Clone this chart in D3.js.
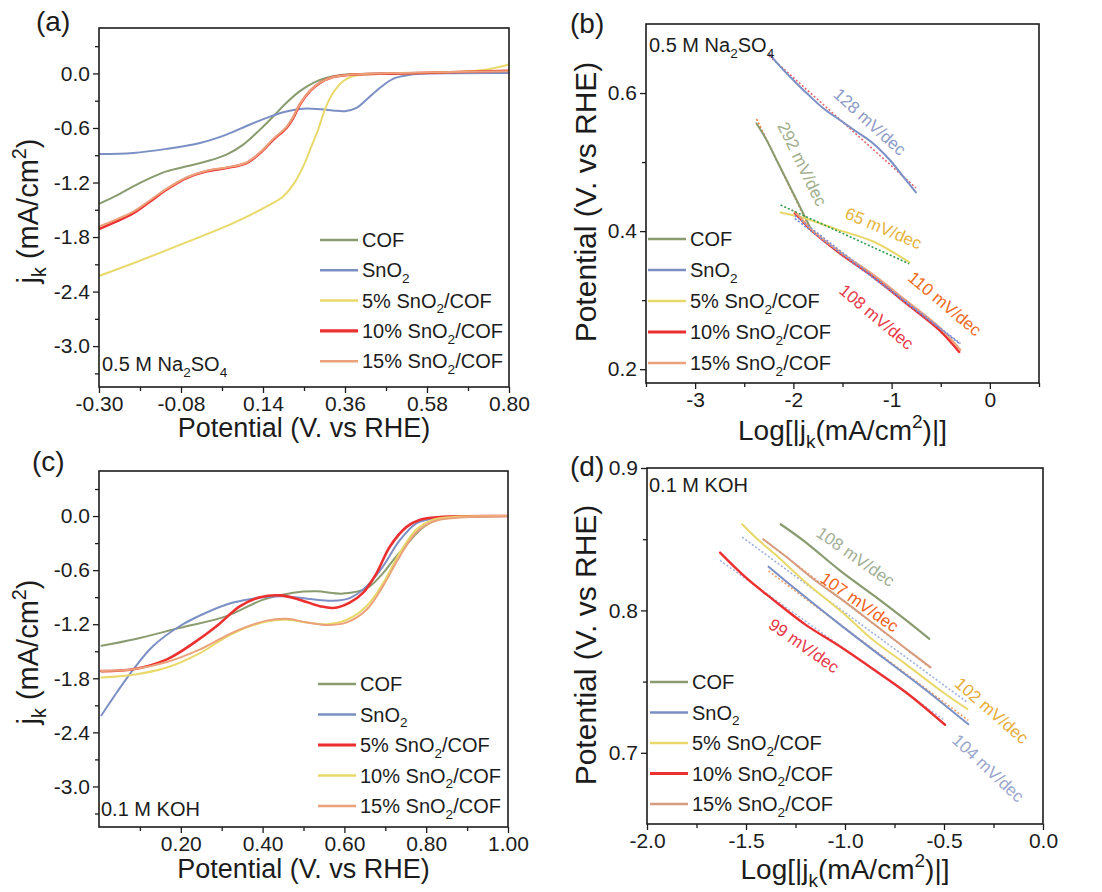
<!DOCTYPE html>
<html>
<head>
<meta charset="utf-8">
<script src="https://cdn.jsdelivr.net/npm/d3@7"></script>
<style>
  body { margin: 0; background: #fff; }
  svg { display: block; font-family: "Liberation Sans", Arial, Helvetica, sans-serif; }
</style>
</head>
<body>
<svg id="fig" width="1102" height="892"></svg>
<script>
// ---------------- series names ("_x" = subscript, "^x" = superscript) ----------------
const sampleNames = ["COF", "SnO_2", "5% SnO_2/COF", "10% SnO_2/COF", "15% SnO_2/COF"];

// ---------------- (a) LSV in 0.5 M Na2SO4 : potential (V vs RHE) / jk (mA/cm2) ----------------
const naPotCOF = [-0.30,-0.253,-0.208,-0.163,-0.119,-0.065,-0.011,0.042,0.087,0.132,0.168,0.203,0.239,0.275,0.311,0.355,0.418,0.60,0.80];
const naJkCOF  = [-1.434,-1.345,-1.242,-1.151,-1.077,-1.022,-0.967,-0.893,-0.783,-0.618,-0.471,-0.323,-0.195,-0.103,-0.048,-0.015,-0.004,0.004,0.015];
const naPotSnO2 = [-0.30,-0.208,-0.119,-0.029,0.042,0.105,0.15,0.194,0.239,0.284,0.328,0.36,0.391,0.418,0.454,0.489,0.534,0.597,0.80];
const naJkSnO2  = [-0.886,-0.875,-0.83,-0.765,-0.673,-0.562,-0.489,-0.426,-0.39,-0.39,-0.408,-0.415,-0.379,-0.287,-0.158,-0.059,-0.015,0.0,0.005];
const naPot5 = [-0.30,-0.208,-0.083,0.06,0.15,0.194,0.221,0.248,0.27,0.288,0.306,0.328,0.355,0.382,0.418,0.60,0.73,0.80];
const naJk5  = [-2.228,-2.088,-1.886,-1.647,-1.463,-1.353,-1.224,-1.022,-0.801,-0.618,-0.397,-0.213,-0.085,-0.029,-0.011,0.007,0.037,0.10];
const naPot10 = [-0.30,-0.253,-0.208,-0.163,-0.119,-0.065,-0.011,0.042,0.096,0.132,0.168,0.203,0.221,0.239,0.266,0.293,0.328,0.373,0.507,0.80];
const naJk10  = [-1.713,-1.628,-1.537,-1.408,-1.279,-1.151,-1.077,-1.04,-0.985,-0.875,-0.728,-0.599,-0.489,-0.342,-0.195,-0.103,-0.04,-0.015,0.0,0.03];
const naPot15 = [-0.30,-0.253,-0.208,-0.163,-0.119,-0.065,-0.011,0.042,0.096,0.132,0.168,0.203,0.221,0.239,0.266,0.293,0.328,0.373,0.507,0.80];
const naJk15  = [-1.684,-1.605,-1.52,-1.395,-1.27,-1.145,-1.07,-1.035,-0.98,-0.87,-0.72,-0.59,-0.48,-0.335,-0.19,-0.10,-0.04,-0.015,0.005,0.025];

// ---------------- (b) Tafel in 0.5 M Na2SO4 : log|jk| / potential ----------------
const naLogCOF = [-2.375,-2.273,-2.171,-2.069,-1.967,-1.866,-1.815];
const naEtaCOF = [0.556,0.532,0.503,0.474,0.445,0.416,0.401];
const naLogSnO2 = [-2.246,-2.138,-2.002,-1.866,-1.696,-1.527,-1.357,-1.188,-1.018,-0.882,-0.753];
const naEtaSnO2 = [0.657,0.639,0.619,0.600,0.578,0.561,0.544,0.527,0.503,0.479,0.456];
const naLog5 = [-2.13,-1.866,-1.527,-1.188,-0.821];
const naEta5 = [0.427,0.418,0.401,0.385,0.355];
const naLog10 = [-1.985,-1.93,-1.815,-1.527,-1.188,-0.848,-0.509,-0.312];
const naEta10 = [0.426,0.418,0.401,0.368,0.334,0.295,0.256,0.225];
const naLog15 = [-1.985,-1.93,-1.815,-1.527,-1.188,-0.848,-0.509,-0.30];
const naEta15 = [0.428,0.420,0.402,0.370,0.337,0.299,0.260,0.228];
const naTafel = [292, 128, 65, 108, 110];   // mV/dec, order as sampleNames

// ---------------- (c) LSV in 0.1 M KOH ----------------
const kohPotCOF = [0.006,0.084,0.198,0.312,0.40,0.475,0.532,0.597,0.655,0.695,0.72,0.748,0.777,0.801,0.833,0.882,1.0];
const kohJkCOF  = [-1.44,-1.37,-1.24,-1.11,-0.93,-0.85,-0.835,-0.86,-0.80,-0.63,-0.486,-0.339,-0.191,-0.099,-0.037,-0.007,0.0];
const kohPotSnO2 = [0.006,0.043,0.084,0.133,0.198,0.263,0.328,0.385,0.45,0.515,0.572,0.613,0.654,0.694,0.735,0.776,0.817,0.882,1.0];
const kohJkSnO2  = [-2.21,-1.96,-1.70,-1.44,-1.22,-1.07,-0.96,-0.91,-0.89,-0.92,-0.94,-0.91,-0.78,-0.56,-0.27,-0.08,-0.03,-0.01,0.0];
const kohPot5 = [0.006,0.084,0.166,0.231,0.288,0.345,0.394,0.443,0.492,0.54,0.573,0.613,0.646,0.679,0.711,0.752,0.785,0.834,1.0];
const kohJk5  = [-1.72,-1.70,-1.59,-1.41,-1.22,-1.00,-0.90,-0.88,-0.93,-1.00,-1.02,-0.96,-0.85,-0.63,-0.34,-0.12,-0.04,-0.01,0.0];
const kohPot10 = [0.006,0.084,0.166,0.247,0.328,0.41,0.459,0.508,0.557,0.606,0.654,0.694,0.735,0.776,0.817,0.866,1.0];
const kohJk10  = [-1.79,-1.76,-1.68,-1.52,-1.30,-1.17,-1.15,-1.18,-1.20,-1.15,-1.00,-0.75,-0.41,-0.15,-0.04,-0.01,0.0];
const kohPot15 = [0.006,0.084,0.166,0.247,0.328,0.41,0.459,0.508,0.557,0.606,0.654,0.694,0.735,0.776,0.817,0.874,1.0];
const kohJk15  = [-1.72,-1.70,-1.62,-1.48,-1.29,-1.16,-1.14,-1.18,-1.21,-1.18,-1.04,-0.78,-0.45,-0.18,-0.06,-0.02,0.0];

// ---------------- (d) Tafel in 0.1 M KOH ----------------
const kohLogCOF = [-1.325,-1.2,-1.025,-0.85,-0.7,-0.574];
const kohEtaCOF = [0.8605,0.848,0.828,0.810,0.794,0.78];
const kohLogSnO2 = [-1.386,-1.25,-1.025,-0.8,-0.6,-0.377];
const kohEtaSnO2 = [0.8307,0.815,0.790,0.766,0.745,0.720];
const kohLog5 = [-1.519,-1.45,-1.35,-1.193,-1.0,-0.857,-0.7,-0.5,-0.382];
const kohEta5 = [0.8605,0.851,0.839,0.819,0.797,0.779,0.763,0.742,0.7307];
const kohLog10 = [-1.631,-1.5,-1.362,-1.2,-1.025,-0.85,-0.688,-0.495];
const kohEta10 = [0.8406,0.823,0.8074,0.790,0.7746,0.758,0.742,0.7197];
const kohLog15 = [-1.413,-1.3,-1.15,-1.0,-0.85,-0.7,-0.568];
const kohEta15 = [0.850,0.838,0.821,0.806,0.790,0.774,0.760];
const kohTafel = [108, 104, 102, 99, 107];

// ---------------- tick values ----------------
const lsvNaTicksX = [-0.30, -0.08, 0.14, 0.36, 0.58, 0.80];
const lsvNaMinorX = [-0.19, 0.03, 0.25, 0.47, 0.69];
const lsvKohTicksX = [0.20, 0.40, 0.60, 0.80, 1.00];
const lsvKohMinorX = [0.10, 0.30, 0.50, 0.70, 0.90];
const lsvTicksY = [0.0, -0.6, -1.2, -1.8, -2.4, -3.0];
const lsvMinorY = [0.3, -0.3, -0.9, -1.5, -2.1, -2.7, -3.3];
const tafNaTicksX = [-3, -2, -1, 0];
const tafNaMinorX = [-3.5, -2.5, -1.5, -0.5, 0.5];
const tafNaTicksY = [0.2, 0.4, 0.6];
const tafNaMinorY = [0.3, 0.5];
const tafKohTicksX = [-2.0, -1.5, -1.0, -0.5, 0.0];
const tafKohMinorX = [-1.75, -1.25, -0.75, -0.25];
const tafKohTicksY = [0.7, 0.8, 0.9];
const tafKohMinorY = [0.75, 0.85];

// ---------------- colours ----------------
const cGreen = "#8a9b6f", cBlue = "#7b8fc4", cYellow = "#e8d96a", cRed = "#ec2f2f", cOrange = "#eba27a";

const svg = d3.select("#fig");
const INK = "#1c1c1c";

// text with sub/superscripts
function rich(sel, str, size) {
  const parts = [];
  let buf = "";
  for (let i = 0; i < str.length; i++) {
    const c = str[i];
    if ((c === "_" || c === "^") && i + 1 < str.length) {
      if (buf) { parts.push({ t: buf, m: 0 }); buf = ""; }
      parts.push({ t: str[i + 1], m: c === "_" ? 1 : -1 });
      i++;
    } else buf += c;
  }
  if (buf) parts.push({ t: buf, m: 0 });
  let shift = 0;
  parts.forEach(p => {
    const target = p.m === 1 ? 0.28 * size : p.m === -1 ? -0.42 * size : 0;
    const ts = sel.append("tspan").text(p.t).attr("dy", target - shift);
    if (p.m !== 0) ts.attr("font-size", size * 0.68);
    shift = target;
  });
}

const fmt = n => v => (v < 0 ? "-" : "") + Math.abs(v).toFixed(n);

function drawPanel(p) {
  const g = svg.append("g");
  const x = d3.scaleLinear().domain(p.xDomain).range([p.left, p.right]);
  const y = d3.scaleLinear().domain(p.yDomain).range([p.bottom, p.top]);

  const styleAxis = a => {
    a.selectAll(".domain").remove();
    a.selectAll("line").attr("stroke", INK).attr("stroke-width", 1.3);
    a.selectAll("text").attr("fill", INK).attr("font-size", 21)
      .attr("font-family", '"Liberation Sans", Arial, sans-serif');
  };
  g.append("g").attr("transform", `translate(0,${p.bottom})`)
    .call(d3.axisBottom(x).tickValues(p.xMinor).tickSize(4).tickFormat("")).call(styleAxis);
  g.append("g").attr("transform", `translate(0,${p.bottom})`)
    .call(d3.axisBottom(x).tickValues(p.xTicks).tickSize(6).tickPadding(3).tickFormat(p.xFmt)).call(styleAxis);
  g.append("g").attr("transform", `translate(${p.left},0)`)
    .call(d3.axisLeft(y).tickValues(p.yMinor).tickSize(4).tickFormat("")).call(styleAxis);
  g.append("g").attr("transform", `translate(${p.left},0)`)
    .call(d3.axisLeft(y).tickValues(p.yTicks).tickSize(6).tickPadding(3).tickFormat(p.yFmt)).call(styleAxis);

  const clipId = "clip-" + p.tag;
  g.append("clipPath").attr("id", clipId).append("rect")
    .attr("x", p.left).attr("y", p.top).attr("width", p.right - p.left).attr("height", p.bottom - p.top);
  const plot = g.append("g").attr("clip-path", `url(#${clipId})`);

  const line = d3.line().x(d => x(d[0])).y(d => y(d[1])).curve(d3.curveCatmullRom.alpha(0.5));

  // dotted linear fit with the stated Tafel slope, intercept from the curve points
  const drawFit = f => {
    const k = -f.slope / 1000;
    const b = d3.mean(f.xs.map((v, i) => f.ys[i] - k * v));
    const x0 = d3.min(f.xs), x1 = d3.max(f.xs);
    plot.append("line")
      .attr("x1", x(x0)).attr("y1", y(b + k * x0))
      .attr("x2", x(x1)).attr("y2", y(b + k * x1))
      .attr("stroke", f.color).attr("stroke-width", 1.6).attr("stroke-dasharray", "2,2");
  };

  (p.fits || []).forEach(drawFit);

  p.series.forEach(s => {
    plot.append("path").datum(s.xs.map((v, i) => [v, s.ys[i]]))
      .attr("d", line).attr("fill", "none")
      .attr("stroke", s.color).attr("stroke-width", s.width || 2)
      .attr("stroke-linejoin", "round").attr("stroke-linecap", "round");
  });

  (p.fitsOver || []).forEach(drawFit);

  // frame
  g.append("rect").attr("x", p.left).attr("y", p.top)
    .attr("width", p.right - p.left).attr("height", p.bottom - p.top)
    .attr("fill", "none").attr("stroke", INK).attr("stroke-width", 1.6);

  // slope annotations (shifted off the line along the text normal by n.off px)
  (p.notes || []).forEach(n => {
    const a = n.angle * Math.PI / 180, off = n.off || 0;
    const cx = x(n.x) + off * Math.sin(a), cy = y(n.y) - off * Math.cos(a);
    g.append("text").attr("transform", `translate(${cx},${cy}) rotate(${n.angle})`)
      .attr("text-anchor", "middle").attr("dy", "0.35em")
      .attr("font-size", 17).attr("fill", n.color).text(n.text);
  });

  // legend
  p.series.forEach((s, i) => {
    const ly = p.legend.y + i * p.legend.dy;
    g.append("line").attr("x1", p.legend.x).attr("x2", p.legend.x + 38)
      .attr("y1", ly).attr("y2", ly).attr("stroke", s.color).attr("stroke-width", s.legendWidth || 2.5);
    const t = g.append("text").attr("x", p.legend.x + 42).attr("y", ly + 7)
      .attr("font-size", 20).attr("fill", INK);
    rich(t, s.name, 20);
  });

  // electrolyte
  const el = g.append("text").attr("x", p.electrolyte.x).attr("y", p.electrolyte.y)
    .attr("font-size", 20).attr("fill", INK);
  rich(el, p.electrolyte.text, 20);

  // panel label
  g.append("text").attr("x", p.label.x).attr("y", p.label.y)
    .attr("font-size", 28).attr("fill", INK).text(p.label.text);

  // axis titles
  const xt = g.append("text").attr("x", (p.left + p.right) / 2).attr("y", p.xTitle.y)
    .attr("text-anchor", "middle").attr("font-size", p.xTitle.size).attr("fill", INK);
  rich(xt, p.xTitle.text, p.xTitle.size);
  const yt = g.append("text")
    .attr("transform", `translate(${p.yTitle.x},${p.yTitle.cy}) rotate(-90)`)
    .attr("text-anchor", "middle").attr("font-size", p.yTitle.size).attr("fill", INK);
  rich(yt, p.yTitle.text, p.yTitle.size);
}

const mk = (name, xs, ys, color, width, legendWidth) => ({ name, xs, ys, color, width, legendWidth });

// (a)
drawPanel({
  tag: "a", left: 99, right: 509, top: 28, bottom: 387,
  xDomain: [-0.30, 0.80], yDomain: [-3.45, 0.5],
  xTicks: lsvNaTicksX, xMinor: lsvNaMinorX, yTicks: lsvTicksY, yMinor: lsvMinorY,
  xFmt: fmt(2), yFmt: fmt(1),
  series: [
    mk(sampleNames[0], naPotCOF, naJkCOF, cGreen, 2),
    mk(sampleNames[1], naPotSnO2, naJkSnO2, cBlue, 2),
    mk(sampleNames[2], naPot5, naJk5, cYellow, 2),
    mk(sampleNames[3], naPot10, naJk10, cRed, 2.6, 3.2),
    mk(sampleNames[4], naPot15, naJk15, cOrange, 2)
  ],
  legend: { x: 320, y: 240, dy: 30.3 },
  electrolyte: { x: 102, y: 371, text: "0.5 M Na_2SO_4" },
  label: { x: 36, y: 31, text: "(a)" },
  xTitle: { y: 437, size: 27, text: "Potential (V. vs RHE)" },
  yTitle: { x: 38, cy: 211, size: 29, text: "j_k (mA/cm^2)" }
});

// (b)
drawPanel({
  tag: "b", left: 646, right: 1039, top: 24, bottom: 383,
  xDomain: [-3.5, 0.5], yDomain: [0.18, 0.7],
  xTicks: tafNaTicksX, xMinor: tafNaMinorX, yTicks: tafNaTicksY, yMinor: tafNaMinorY,
  xFmt: fmt(0), yFmt: fmt(1),
  fits: [
    { xs: naLogSnO2, ys: naEtaSnO2, slope: naTafel[1], color: "#e8676a" },
    { xs: naLogCOF, ys: naEtaCOF, slope: naTafel[0], color: "#ef7d3a" }
  ],
  fitsOver: [
    { xs: naLog5, ys: naEta5, slope: naTafel[2], color: "#2f9a4f" },
    { xs: naLog10, ys: naEta10, slope: naTafel[3], color: "#6f86d8" },
    { xs: naLog15, ys: naEta15, slope: naTafel[4], color: "#7f90d8" }
  ],
  series: [
    mk(sampleNames[0], naLogCOF, naEtaCOF, cGreen, 2),
    mk(sampleNames[1], naLogSnO2, naEtaSnO2, cBlue, 2),
    mk(sampleNames[2], naLog5, naEta5, cYellow, 2),
    mk(sampleNames[3], naLog10, naEta10, cRed, 2.4, 3.2),
    mk(sampleNames[4], naLog15, naEta15, cOrange, 2)
  ],
  notes: [
    { x: -1.262, y: 0.552, angle: 42, off: 6, color: "#8e9cc8", text: naTafel[1] + " mV/dec" },
    { x: -1.927, y: 0.496, angle: 64, off: 2, color: "#a0ae8c", text: naTafel[0] + " mV/dec" },
    { x: -1.086, y: 0.403, angle: 23, off: 1, color: "#e6b43c", text: naTafel[2] + " mV/dec" },
    { x: -0.458, y: 0.295, angle: 40, color: "#f06b1e", text: naTafel[4] + " mV/dec" },
    { x: -1.153, y: 0.276, angle: 40, color: "#e8394a", text: naTafel[3] + " mV/dec" }
  ],
  legend: { x: 648, y: 239, dy: 31 },
  electrolyte: { x: 649, y: 52, text: "0.5 M Na_2SO_4" },
  label: { x: 570, y: 33, text: "(b)" },
  xTitle: { y: 440, size: 28, text: "Log[|j_k(mA/cm^2)|]" },
  yTitle: { x: 596, cy: 202, size: 30, text: "Potential (V. vs RHE)" }
});

// (c)
drawPanel({
  tag: "c", left: 99, right: 508, top: 471, bottom: 827,
  xDomain: [0.0, 1.0], yDomain: [-3.45, 0.5],
  xTicks: lsvKohTicksX, xMinor: lsvKohMinorX, yTicks: lsvTicksY, yMinor: lsvMinorY,
  xFmt: fmt(2), yFmt: fmt(1),
  series: [
    mk(sampleNames[0], kohPotCOF, kohJkCOF, cGreen, 2),
    mk(sampleNames[1], kohPotSnO2, kohJkSnO2, cBlue, 2),
    mk(sampleNames[2], kohPot5, kohJk5, cRed, 2.6, 3.2),
    mk(sampleNames[3], kohPot10, kohJk10, cYellow, 2),
    mk(sampleNames[4], kohPot15, kohJk15, cOrange, 2)
  ],
  legend: { x: 318, y: 684, dy: 30.5 },
  electrolyte: { x: 101, y: 816, text: "0.1 M KOH" },
  label: { x: 32, y: 471, text: "(c)" },
  xTitle: { y: 878, size: 27, text: "Potential (V. vs RHE)" },
  yTitle: { x: 38, cy: 652, size: 29, text: "j_k (mA/cm^2)" }
});

// (d)
drawPanel({
  tag: "d", left: 647, right: 1043, top: 468, bottom: 824,
  xDomain: [-2.0, 0.0], yDomain: [0.65, 0.9],
  xTicks: tafKohTicksX, xMinor: tafKohMinorX, yTicks: tafKohTicksY, yMinor: tafKohMinorY,
  xFmt: fmt(1), yFmt: fmt(1),
  fits: [
    { xs: kohLog10, ys: kohEta10, slope: kohTafel[3], color: "#a9b8e6" },
    { xs: kohLog5, ys: kohEta5, slope: kohTafel[2], color: "#9fb0dc" },
    { xs: kohLogSnO2, ys: kohEtaSnO2, slope: kohTafel[1], color: "#f0a060" },
    { xs: kohLog15, ys: kohEta15, slope: kohTafel[4], color: "#e89a7a" }
  ],
  series: [
    mk(sampleNames[0], kohLogCOF, kohEtaCOF, cGreen, 2.2),
    mk(sampleNames[1], kohLogSnO2, kohEtaSnO2, cBlue, 2),
    mk(sampleNames[2], kohLog5, kohEta5, cYellow, 2),
    mk(sampleNames[3], kohLog10, kohEta10, cRed, 2.4, 3.2),
    mk(sampleNames[4], kohLog15, kohEta15, "#d69c80", 2)
  ],
  notes: [
    { x: -0.946, y: 0.8378, angle: 35, color: "#a3ae96", text: kohTafel[0] + " mV/dec" },
    { x: -0.929, y: 0.8053, angle: 35, off: 1, color: "#f2621a", text: kohTafel[4] + " mV/dec" },
    { x: -1.207, y: 0.7753, angle: 35, color: "#e8394a", text: kohTafel[3] + " mV/dec" },
    { x: -0.259, y: 0.7297, angle: 41, color: "#e6ac36", text: kohTafel[2] + " mV/dec" },
    { x: -0.276, y: 0.6893, angle: 43, color: "#9aa5cc", text: kohTafel[1] + " mV/dec" }
  ],
  legend: { x: 650, y: 682, dy: 30.5 },
  electrolyte: { x: 649, y: 492, text: "0.1 M KOH" },
  label: { x: 570, y: 476, text: "(d)" },
  xTitle: { y: 879, size: 28, text: "Log[|j_k(mA/cm^2)|]" },
  yTitle: { x: 596, cy: 645, size: 30, text: "Potential (V. vs RHE)" }
});
</script>
</body>
</html>
